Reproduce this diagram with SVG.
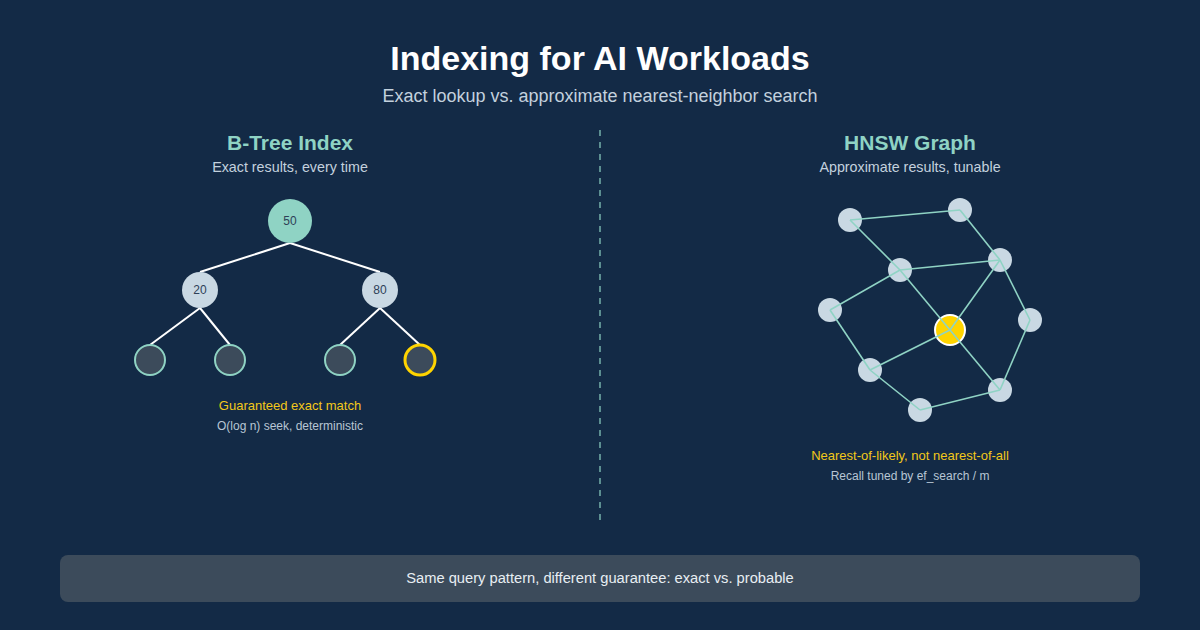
<svg xmlns="http://www.w3.org/2000/svg" width="1200" height="630" viewBox="0 0 1200 630">
<style>
text{font-family:"Liberation Sans",Arial,sans-serif;text-anchor:middle}
.title{font-size:34px;font-weight:bold;fill:#ffffff}
.sub{font-size:18px;fill:#c3d1de}
.head{font-size:21px;font-weight:bold;fill:#8fd3c4}
.cap{font-size:14.3px;fill:#c3d1de}
.hl{font-size:13px;fill:#f2c81a}
.note{font-size:12px;fill:#b8c6d4}
.lbl{font-size:12px;fill:#2e4057}
.tree{stroke:#ffffff;stroke-width:2;fill:none}
.edge{stroke:#8fd3c4;stroke-width:1.6;fill:none}
.leaf{fill:#3c4b5b;stroke:#8fd3c4;stroke-width:2}
.hn{fill:#c9d8e3}
.mid{fill:#c9d8e3}
</style>
<rect width="1200" height="630" fill="#132a46"/>
<text class="title" x="600" y="70">Indexing for AI Workloads</text>
<text class="sub" x="600" y="102">Exact lookup vs. approximate nearest-neighbor search</text>
<line x1="600" y1="130" x2="600" y2="520" stroke="#8fd3c4" stroke-width="1.5" stroke-dasharray="6 6" opacity="0.8"/>

<g id="btree">
<text class="head" x="290" y="150">B-Tree Index</text>
<text class="cap" x="290" y="172">Exact results, every time</text>
<g id="tree-edges">
<line class="tree" x1="290" y1="243" x2="200" y2="272"/>
<line class="tree" x1="290" y1="243" x2="380" y2="272"/>
<line class="tree" x1="200" y1="308" x2="150" y2="345"/>
<line class="tree" x1="200" y1="308" x2="230" y2="345"/>
<line class="tree" x1="380" y1="308" x2="340" y2="345"/>
<line class="tree" x1="380" y1="308" x2="420" y2="345"/>
</g>
<g id="n50"><circle cx="290" cy="221" r="22" fill="#8fd3c4"/><text class="lbl" x="290" y="225">50</text></g>
<g id="n20"><circle cx="200" cy="290" r="18" class="mid"/><text class="lbl" x="200" y="294">20</text></g>
<g id="n80"><circle cx="380" cy="290" r="18" class="mid"/><text class="lbl" x="380" y="294">80</text></g>
<g id="leaf1"><circle cx="150" cy="360" r="15" class="leaf"/></g>
<g id="leaf2"><circle cx="230" cy="360" r="15" class="leaf"/></g>
<g id="leaf3"><circle cx="340" cy="360" r="15" class="leaf"/></g>
<g id="leaf4"><circle cx="420" cy="360" r="15" class="leaf" style="stroke:#ffd400;stroke-width:3"/></g>
<text class="hl" x="290" y="410">Guaranteed exact match</text>
<text class="note" x="290" y="430">O(log n) seek, deterministic</text>
</g>

<g id="hnsw">
<text class="head" x="910" y="150">HNSW Graph</text>
<text class="cap" x="910" y="172">Approximate results, tunable</text>
<g id="h-nodes">
<circle class="hn" cx="850" cy="220" r="12"/>
<circle class="hn" cx="960" cy="210" r="12"/>
<circle class="hn" cx="900" cy="270" r="12"/>
<circle class="hn" cx="1000" cy="260" r="12"/>
<circle class="hn" cx="830" cy="310" r="12"/>
<circle class="hn" cx="1030" cy="320" r="12"/>
<circle class="hn" cx="870" cy="370" r="12"/>
<circle class="hn" cx="1000" cy="390" r="12"/>
<circle class="hn" cx="920" cy="410" r="12"/>
<circle cx="950" cy="330" r="15" fill="#ffd400" stroke="#ffffff" stroke-width="2"/>
</g>
<g id="h-edges">
<line class="edge" x1="850" y1="220" x2="960" y2="210"/>
<line class="edge" x1="850" y1="220" x2="900" y2="270"/>
<line class="edge" x1="960" y1="210" x2="1000" y2="260"/>
<line class="edge" x1="900" y1="270" x2="1000" y2="260"/>
<line class="edge" x1="900" y1="270" x2="830" y2="310"/>
<line class="edge" x1="900" y1="270" x2="950" y2="330"/>
<line class="edge" x1="1000" y1="260" x2="950" y2="330"/>
<line class="edge" x1="1000" y1="260" x2="1030" y2="320"/>
<line class="edge" x1="830" y1="310" x2="870" y2="370"/>
<line class="edge" x1="870" y1="370" x2="950" y2="330"/>
<line class="edge" x1="870" y1="370" x2="920" y2="410"/>
<line class="edge" x1="920" y1="410" x2="1000" y2="390"/>
<line class="edge" x1="1000" y1="390" x2="1030" y2="320"/>
<line class="edge" x1="950" y1="330" x2="1000" y2="390"/>
</g>
<text class="hl" x="910" y="460">Nearest-of-likely, not nearest-of-all</text>
<text class="note" x="910" y="480">Recall tuned by ef_search / m</text>
</g>

<g id="footer">
<rect x="60" y="555" width="1080" height="47" rx="8" fill="#3c4b5b"/>
<text x="600" y="583" style="font-size:14.7px;fill:#e8eef3">Same query pattern, different guarantee: exact vs. probable</text>
</g>
</svg>
